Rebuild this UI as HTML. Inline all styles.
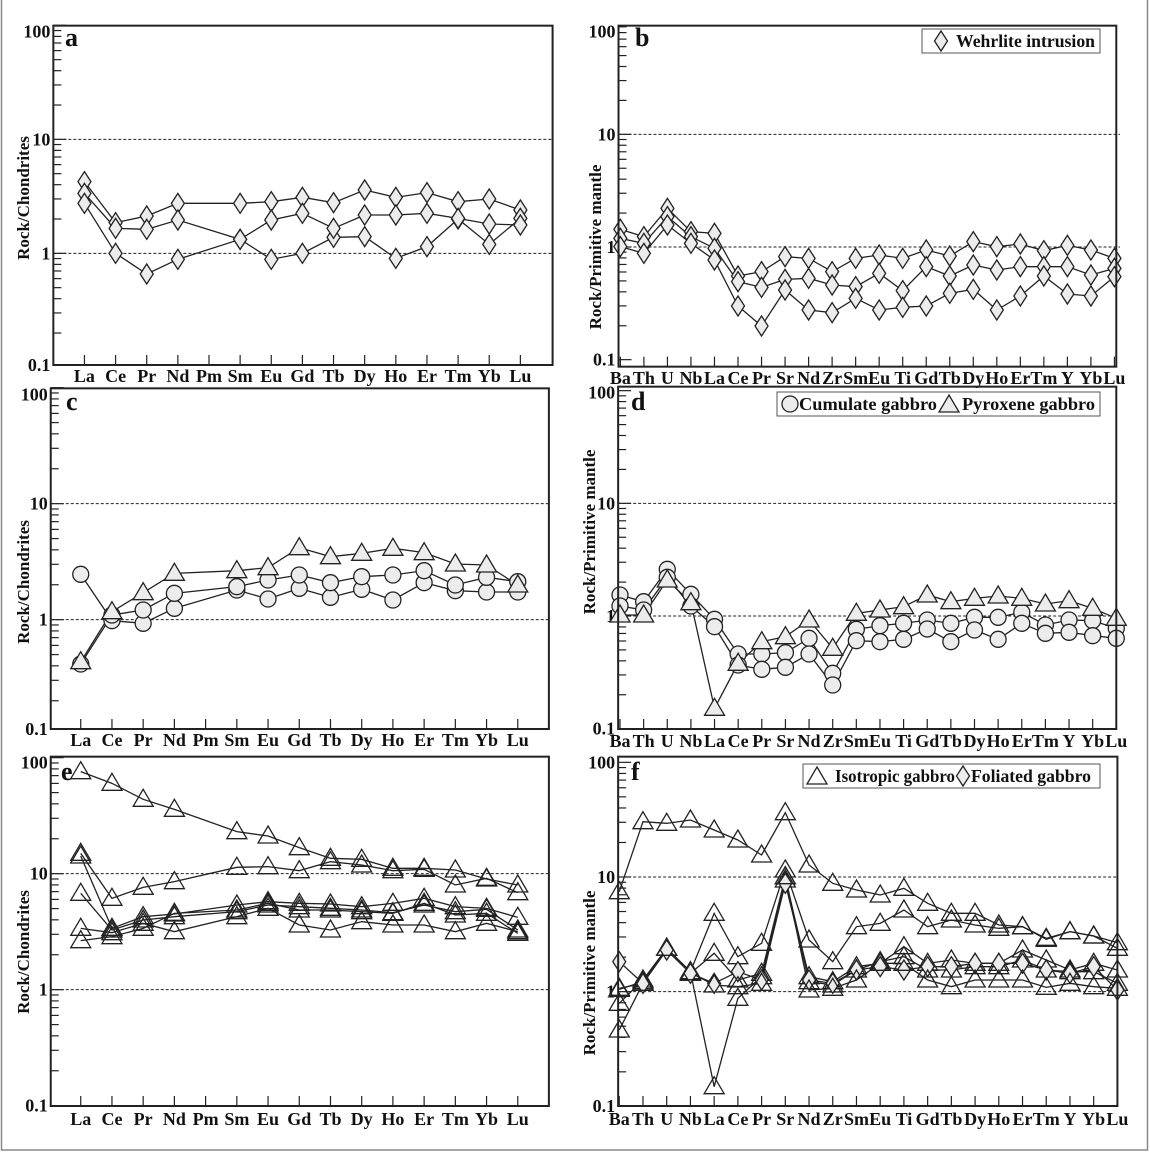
<!DOCTYPE html>
<html><head><meta charset="utf-8">
<style>
html,body{margin:0;padding:0;background:#fff;}
svg{display:block;}
text{font-family:"Liberation Serif",serif;font-weight:bold;fill:#111;}
.xl text{font-size:18px;text-anchor:middle;}
.yl text{font-size:18px;text-anchor:end;}
.yt{font-size:17px;text-anchor:middle;}
.lt{font-size:26px;}
.lg{font-size:18px;}
</style></head><body>
<svg id="s" width="1150" height="1153" viewBox="0 0 1150 1153" xmlns="http://www.w3.org/2000/svg">
<rect x="1.5" y="-5" width="1146" height="1155" fill="none" stroke="#888" stroke-width="1.5"/>
<g id="pa"><g class="xl"><text>La</text><text>Ce</text><text>Pr</text><text>Nd</text><text>Pm</text><text>Sm</text><text>Eu</text><text>Gd</text><text>Tb</text><text>Dy</text><text>Ho</text><text>Er</text><text>Tm</text><text>Yb</text><text>Lu</text></g>
<g class="yl"><text>0.1</text><text>1</text><text>10</text><text>100</text></g></g>
<g id="pb"><g class="xl"><text>Ba</text><text>Th</text><text>U</text><text>Nb</text><text>La</text><text>Ce</text><text>Pr</text><text>Sr</text><text>Nd</text><text>Zr</text><text>Sm</text><text>Eu</text><text>Ti</text><text>Gd</text><text>Tb</text><text>Dy</text><text>Ho</text><text>Er</text><text>Tm</text><text>Y</text><text>Yb</text><text>Lu</text></g>
<g class="yl"><text>0.1</text><text>1</text><text>10</text><text>100</text></g></g>
<g id="pc"><g class="xl"><text>La</text><text>Ce</text><text>Pr</text><text>Nd</text><text>Pm</text><text>Sm</text><text>Eu</text><text>Gd</text><text>Tb</text><text>Dy</text><text>Ho</text><text>Er</text><text>Tm</text><text>Yb</text><text>Lu</text></g>
<g class="yl"><text>0.1</text><text>1</text><text>10</text><text>100</text></g></g>
<g id="pd"><g class="xl"><text>Ba</text><text>Th</text><text>U</text><text>Nb</text><text>La</text><text>Ce</text><text>Pr</text><text>Sr</text><text>Nd</text><text>Zr</text><text>Sm</text><text>Eu</text><text>Ti</text><text>Gd</text><text>Tb</text><text>Dy</text><text>Ho</text><text>Er</text><text>Tm</text><text>Y</text><text>Yb</text><text>Lu</text></g>
<g class="yl"><text>0.1</text><text>1</text><text>10</text><text>100</text></g></g>
<g id="pe"><g class="xl"><text>La</text><text>Ce</text><text>Pr</text><text>Nd</text><text>Pm</text><text>Sm</text><text>Eu</text><text>Gd</text><text>Tb</text><text>Dy</text><text>Ho</text><text>Er</text><text>Tm</text><text>Yb</text><text>Lu</text></g>
<g class="yl"><text>0.1</text><text>1</text><text>10</text><text>100</text></g></g>
<g id="pf"><g class="xl"><text>Ba</text><text>Th</text><text>U</text><text>Nb</text><text>La</text><text>Ce</text><text>Pr</text><text>Sr</text><text>Nd</text><text>Zr</text><text>Sm</text><text>Eu</text><text>Ti</text><text>Gd</text><text>Tb</text><text>Dy</text><text>Ho</text><text>Er</text><text>Tm</text><text>Y</text><text>Yb</text><text>Lu</text></g>
<g class="yl"><text>0.1</text><text>1</text><text>10</text><text>100</text></g></g>

<text class="yt" transform="translate(29,198) rotate(-90)">Rock/Chondrites</text>
<text class="yt" transform="translate(601,247) rotate(-90)">Rock/Primitive mantle</text>
<text class="yt" transform="translate(29,582) rotate(-90)">Rock/Chondrites</text>
<text class="yt" transform="translate(595,532) rotate(-90)">Rock/Primitive mantle</text>
<text class="yt" transform="translate(29,952) rotate(-90)">Rock/Chondrites</text>
<text class="yt" transform="translate(595,973) rotate(-90)">Rock/Primitive mantle</text>

<text class="lt" x="65" y="46">a</text>
<text class="lt" x="635" y="46">b</text>
<text class="lt" x="66" y="410">c</text>
<text class="lt" x="631" y="410">d</text>
<text class="lt" x="61" y="780">e</text>
<text class="lt" x="631" y="780">f</text>

<rect x="922" y="29" width="178" height="24" fill="#fff" stroke="#555" stroke-width="1"/>
<text class="lg" x="956" y="47" textLength="139" lengthAdjust="spacingAndGlyphs">Wehrlite intrusion</text>
<rect x="777" y="392" width="323" height="24" fill="#fff" stroke="#555" stroke-width="1"/>
<text class="lg" x="799" y="410" textLength="138" lengthAdjust="spacingAndGlyphs">Cumulate gabbro</text>
<text class="lg" x="962" y="410" textLength="133" lengthAdjust="spacingAndGlyphs">Pyroxene gabbro</text>
<rect x="803" y="764" width="297" height="24" fill="#fff" stroke="#555" stroke-width="1"/>
<text class="lg" x="835" y="782" textLength="120" lengthAdjust="spacingAndGlyphs">Isotropic gabbro</text>
<text class="lg" x="971" y="782" textLength="120" lengthAdjust="spacingAndGlyphs">Foliated gabbro</text>
<g id="dyn"></g>
</svg>
<script>
var NS="http://www.w3.org/2000/svg";
var dyn=document.getElementById('dyn');
function el(t,a){var e=document.createElementNS(NS,t);for(var k in a)e.setAttribute(k,a[k]);dyn.appendChild(e);return e;}
function marker(type,x,y){
 var st={fill:"#ececec",stroke:"#222","stroke-width":1.3};
 if(type=="d"){st.points=(x)+","+(y-10)+" "+(x+6.5)+","+y+" "+x+","+(y+10)+" "+(x-6.5)+","+y;el("polygon",st);}
 else if(type=="c"){st.cx=x;st.cy=y;st.r=8;el("circle",st);}
 else if(type=="t"){st.points=x+","+(y-10)+" "+(x+10)+","+(y+7)+" "+(x-10)+","+(y+7);el("polygon",st);}
 else if(type=="to"){st.fill="none";st.points=x+","+(y-10)+" "+(x+10)+","+(y+7)+" "+(x-10)+","+(y+7);el("polygon",st);}
}
var P={
 pa:{ox:0,oy:0,L:144,R:1492,T:77,B:1095,y10:418,y1:760,x0:228,x1:1405,n:15,lab:382,series:[
  ["d",[545,668,648,610,null,610,605,592,608,570,592,578,605,597,630]],
  ["d",[580,685,688,660,null,718,778,760,712,710,775,740,657,733,655]],
  ["d",[610,760,822,778,null,718,660,640,685,645,645,640,655,672,675]]]},
 pb:{ox:570,oy:0,L:131,R:1475,T:77,B:1100,y10:403,y1:741,x0:136,x1:1470,n:22,lab:384,gx:1485,series:[
  ["d",[688,710,625,695,700,828,815,770,775,815,775,765,775,750,768,725,740,732,752,736,750,775]],
  ["d",[715,730,650,710,745,845,862,838,835,855,860,820,872,800,828,795,810,800,800,800,825,805]],
  ["d",[740,760,675,730,780,918,978,870,930,938,895,930,922,918,880,868,930,888,828,882,888,830]]]},
 pc:{ox:0,oy:380,L:137,R:1482,T:25,B:1047,y10:371,y1:719,x0:218,x1:1398,n:15,lab:746,series:[
  ["c",[583,722,730,685,null,630,657,625,652,628,660,608,632,636,636]],
  ["c",[852,705,690,640,null,620,600,585,608,590,585,572,615,592,605]],
  ["t",[845,695,638,580,null,572,563,503,530,520,505,518,552,555,615]]]},
 pd:{ox:570,oy:380,L:130,R:1475,T:20,B:1047,y10:370,y1:708,x0:135,x1:1475,n:22,lab:747,series:[
  ["c",[645,665,568,643,718,822,822,818,775,880,748,737,730,720,730,712,712,697,735,720,722,745]],
  ["c",[678,690,592,678,740,855,868,862,822,915,782,785,778,747,785,750,778,730,760,757,767,775]],
  ["t",[705,705,600,668,985,850,785,770,720,805,700,690,680,645,665,655,648,655,672,662,685,715]]]},
 pe:{ox:0,oy:750,L:137,R:1482,T:20,B:1068,y10:371,y1:719,x0:218,x1:1398,n:15,lab:1125,series:[
  ["to",[65,100,148,178,null,245,258,293,325,328,355,355,360,387,405]],
  ["to",[310,445,412,395,null,352,350,362,335,345,362,358,405,385,428]],
  ["to",[318,535,500,492,null,465,455,460,462,470,460,445,470,475,502]],
  ["to",[430,540,510,500,null,485,465,470,475,480,488,465,485,478,540]],
  ["to",[535,548,520,545,null,500,475,525,540,515,525,525,545,520,545]],
  ["to",[572,560,535,490,null,480,460,480,480,485,490,460,495,490,550]]]},
 pf:{ox:570,oy:750,L:130,R:1478,T:20,B:1068,y10:381,y1:725,x0:133,x1:1478,n:22,lab:1125,series:[
  ["to",[425,215,220,210,240,270,315,188,345,400,420,435,415,460,490,490,525,530,565,545,558,578]],
  ["to",[718,695,595,665,490,620,580,360,570,635,530,520,480,530,510,525,535,530,568,545,558,595]],
  ["to",[760,690,595,665,1010,745,680,390,680,695,650,640,590,640,630,640,640,600,630,660,640,660]],
  ["to",[840,700,595,670,610,690,670,380,695,705,660,635,620,660,660,650,650,630,660,665,665,700]],
  ["d",[635,700,600,670,700,665,690,400,690,700,660,650,660,650,650,640,640,640,660,670,650,720]],
  ["to",[715,700,595,668,705,710,700,380,720,715,690,640,640,690,710,690,690,690,712,700,710,715]]]}
};
for(var id in P){
 var p=P[id];
 var X=function(z){return p.ox+z/2.7;}, Y=function(z){return p.oy+z/3;};
 var L=X(p.L),R=X(p.R),T=Y(p.T),B=Y(p.B);
 var d=(p.y1-p.y10)/3, y1=Y(p.y1);
 function yv(v){return y1-Math.log10(v)*d;}
 [1,10].forEach(function(v){el("line",{x1:L,x2:p.gx?X(p.gx):R,y1:yv(v),y2:yv(v),stroke:"#222","stroke-width":1,"stroke-dasharray":"3,2"});});
 for(var e=-1;e<=2;e++){for(var m=1;m<=9;m++){var v=m*Math.pow(10,e);var yy=yv(v);if(yy<T-1||yy>B+1)continue;
   el("line",{x1:L,x2:L+(m==1?13:8),y1:yy,y2:yy,stroke:"#222","stroke-width":1.2});}}
 var yl=document.querySelector('#'+id+' .yl').children;
 [0.1,1,10,100].forEach(function(v,i){var t=yl[i];var yy=Math.max(yv(v),T+6);yy=Math.min(yy,B);t.setAttribute("x",L-3);t.setAttribute("y",yy+6);});
 var step=(p.x1-p.x0)/(p.n-1);
 var xl=document.querySelector('#'+id+' .xl').children;
 for(var i=0;i<p.n;i++){var xx=X(p.x0+i*step);
   el("line",{x1:xx,x2:xx,y1:B,y2:B-10,stroke:"#222","stroke-width":1.2});
   xl[i].setAttribute("x",xx);xl[i].setAttribute("y",p.lab);}
 p.series.forEach(function(s){
   var pts=[];s[1].forEach(function(z,i){if(z!=null)pts.push([X(p.x0+i*step),Y(z)]);});
   el("polyline",{points:pts.map(function(q){return q.join(",");}).join(" "),fill:"none",stroke:"#222","stroke-width":1.3});
 });
 p.series.forEach(function(s){
   s[1].forEach(function(z,i){if(z!=null)marker(s[0],X(p.x0+i*step),Y(z));});
 });
 el("rect",{x:L,y:T,width:R-L,height:B-T,fill:"none",stroke:"#222","stroke-width":2});
}
marker("d",941,41);
marker("c",790,404);
marker("t",949,405);
marker("to",817,777);
marker("d",963,776);
</script>
</body></html>
